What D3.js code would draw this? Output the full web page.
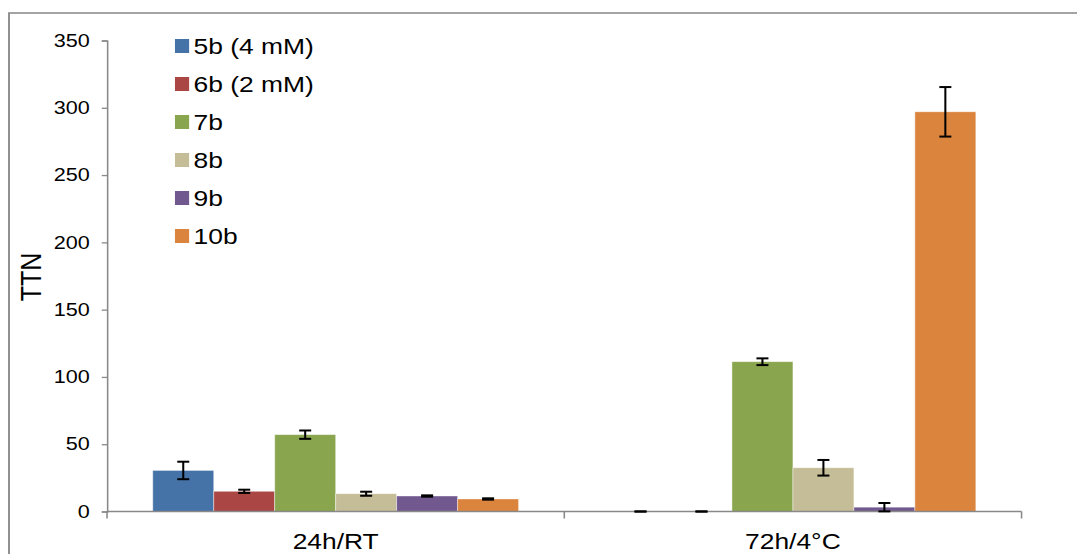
<!DOCTYPE html>
<html>
<head>
<meta charset="utf-8">
<script src="https://cdn.jsdelivr.net/npm/d3@7"></script>
<style>
  html, body { margin: 0; padding: 0; background: #ffffff; }
  svg { display: block; }
  text { font-family: "Liberation Sans", Arial, sans-serif; fill: #000; }
</style>
</head>
<body>
<svg id="chart"></svg>
<script>
// Chart data
const categories = ['24h/RT', '72h/4°C'];
const seriesNames = ['5b (4 mM)', '6b (2 mM)', '7b', '8b', '9b', '10b'];
const seriesColors = ['#4572A7', '#AA4643', '#89A54E', '#C4BD97', '#71588F', '#DB843D'];
const values5b = [30.5, 0];
const values6b = [15, 0];
const values7b = [57.1, 111.3];
const values8b = [13.2, 32.5];
const values9b = [11.5, 3.2];
const values10b = [9.3, 297];
const errors5b = [6.5, 0];
const errors6b = [1.2, 0];
const errors7b = [3.1, 2.5];
const errors8b = [1.5, 5.8];
const errors9b = [0.5, 3.1];
const errors10b = [0.5, 18.4];
const yTicks = [0, 50, 100, 150, 200, 250, 300, 350];

const seriesValues = [values5b, values6b, values7b, values8b, values9b, values10b];
const seriesErrors = [errors5b, errors6b, errors7b, errors8b, errors9b, errors10b];

// The original picture is stretched horizontally, so draw in a narrower box and stretch it
const W = 1077, H = 554, stretch = 1.2;
const VW = W / stretch;

const svg = d3.select('#chart')
    .attr('width', W)
    .attr('height', H)
    .attr('viewBox', `0 0 ${VW} ${H}`)
    .attr('preserveAspectRatio', 'none');

// Outer frame
svg.append('rect')
    .attr('x', 7.5).attr('y', 13)
    .attr('width', VW + 20).attr('height', H + 20)
    .attr('fill', 'none')
    .attr('stroke', '#868686')
    .attr('stroke-width', 1.5);

const plot = { left: 89.2, right: 851.3, top: 40.5, bottom: 511.5 };

const x0 = d3.scaleBand()
    .domain(categories)
    .range([plot.left, plot.right])
    .padding(0);

const x1 = d3.scaleBand()
    .domain(seriesNames)
    .range([0, x0.bandwidth()])
    .paddingInner(0)
    .paddingOuter(0.75);

const y = d3.scaleLinear()
    .domain([0, 350])
    .range([plot.bottom, plot.top]);

const g = svg.append('g');

// Flatten data into bars
const bars = [];
categories.forEach((c, ci) => {
    seriesNames.forEach((s, si) => {
        bars.push({ cat: c, series: s, color: seriesColors[si], value: seriesValues[si][ci], err: seriesErrors[si][ci] });
    });
});

// Bars
g.selectAll('.bar')
    .data(bars)
    .enter().append('rect')
    .attr('class', 'bar')
    .attr('x', d => x0(d.cat) + x1(d.series))
    .attr('y', d => y(d.value))
    .attr('width', x1.bandwidth())
    .attr('height', d => y(0) - y(d.value))
    .attr('fill', d => d.color)
    .attr('stroke', 'rgba(255,255,255,0.45)')
    .attr('stroke-width', 0.8);

// Y axis
const yAxis = g.append('g')
    .attr('transform', `translate(${plot.left},0)`)
    .call(d3.axisLeft(y).tickValues(yTicks).tickSize(4.4).tickPadding(10));
yAxis.selectAll('text')
    .style('font-size', '18px')
    .style('font-family', '"Liberation Sans", Arial, sans-serif')
    .attr('fill', '#000');

// X axis with ticks between categories
const xAxis = g.append('g')
    .attr('transform', `translate(0,${plot.bottom})`);
xAxis.append('line')
    .attr('x1', plot.left).attr('x2', plot.right)
    .attr('y1', 0).attr('y2', 0);
const boundaries = [plot.left].concat(categories.map(c => x0(c) + x0.bandwidth()));
xAxis.selectAll('.xtick')
    .data(boundaries)
    .enter().append('line')
    .attr('class', 'xtick')
    .attr('x1', d => d).attr('x2', d => d)
    .attr('y1', 0).attr('y2', 7);
xAxis.selectAll('.xlabel')
    .data(categories)
    .enter().append('text')
    .attr('class', 'xlabel')
    .attr('x', d => x0(d) + x0.bandwidth() / 2)
    .attr('y', 38)
    .attr('text-anchor', 'middle')
    .style('font-size', '22px')
    .text(d => d);

svg.selectAll('.domain, .tick line, .xtick, g line')
    .attr('stroke', '#898989')
    .attr('stroke-width', 1.3);

// Error bars
const capHalf = 5;
const eb = g.selectAll('.err')
    .data(bars)
    .enter().append('g')
    .attr('class', 'err')
    .attr('transform', d => `translate(${x0(d.cat) + x1(d.series) + x1.bandwidth() / 2},0)`);
eb.append('line')
    .attr('x1', 0).attr('x2', 0)
    .attr('y1', d => y(d.value + d.err))
    .attr('y2', d => y(d.value - d.err))
    .attr('stroke', '#000').attr('stroke-width', 1.7);
eb.append('line')
    .attr('x1', -capHalf).attr('x2', capHalf)
    .attr('y1', d => y(d.value + d.err))
    .attr('y2', d => y(d.value + d.err))
    .attr('stroke', '#000').attr('stroke-width', 2);
eb.append('line')
    .attr('x1', -capHalf).attr('x2', capHalf)
    .attr('y1', d => y(d.value - d.err))
    .attr('y2', d => y(d.value - d.err))
    .attr('stroke', '#000').attr('stroke-width', 2);

// Y axis title
svg.append('text')
    .attr('transform', `translate(${40.5 / stretch},277) rotate(-90)`)
    .attr('text-anchor', 'middle')
    .style('font-size', '25px')
    .text('TTN');

// Legend
const legend = svg.append('g')
    .attr('transform', 'translate(145.8,46)');
const items = legend.selectAll('.item')
    .data(seriesNames)
    .enter().append('g')
    .attr('class', 'item')
    .attr('transform', (d, i) => `translate(0,${i * 38})`);
items.append('rect')
    .attr('x', 0).attr('y', -7)
    .attr('width', 11.8).attr('height', 14)
    .attr('fill', (d, i) => seriesColors[i]);
items.append('text')
    .attr('x', 15.5)
    .attr('y', 0)
    .attr('dy', '0.35em')
    .style('font-size', '22px')
    .text(d => d);
</script>
</body>
</html>
